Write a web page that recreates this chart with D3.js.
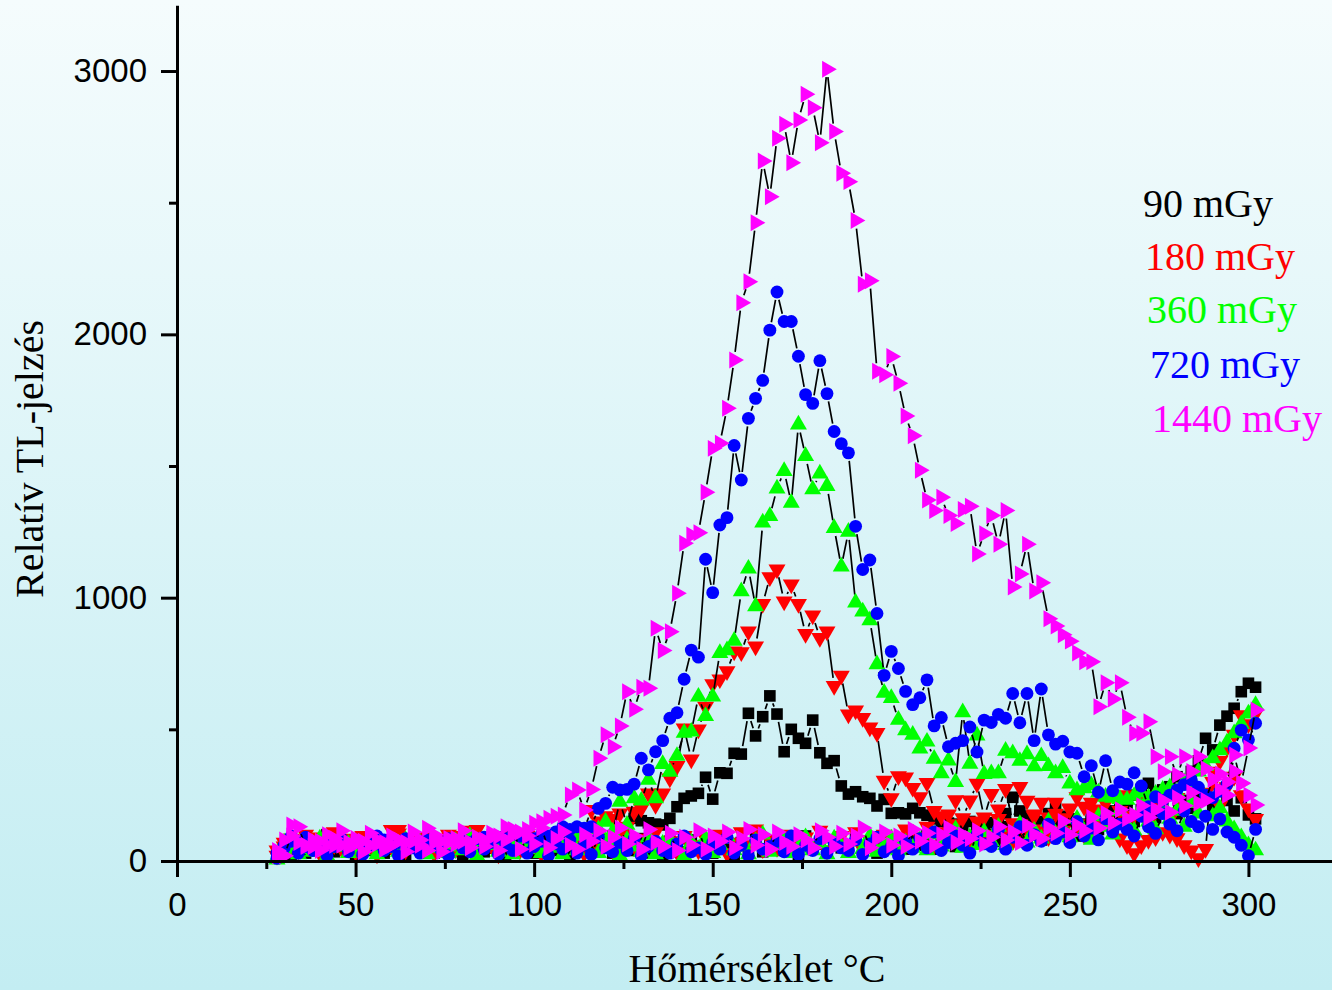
<!DOCTYPE html>
<html>
<head>
<meta charset="utf-8">
<script src="https://cdn.jsdelivr.net/npm/d3@7"></script>
<style>
  html, body { margin: 0; padding: 0; background: #ffffff; }
  svg { display: block; }
  .tick-label { font-family: "Liberation Sans", Arial, sans-serif; font-size: 33px; fill: #000; }
  .title { font-family: "Liberation Serif", "Times New Roman", serif; font-size: 40px; fill: #000; }
</style>
</head>
<body>
<script>
const ancho = 1332;
const alto = 990;

// hőmérséklet (°C), minden sorozat közös rácsa
const temperature = [
  28,30,32,34,36,38,40,42,44,46,
  48,50,52,54,56,58,60,62,64,66,
  68,70,72,74,76,78,80,82,84,86,
  88,90,92,94,96,98,100,102,104,106,
  108,110,112,114,116,118,120,122,124,126,
  128,130,132,134,136,138,140,142,144,146,
  148,150,152,154,156,158,160,162,164,166,
  168,170,172,174,176,178,180,182,184,186,
  188,190,192,194,196,198,200,202,204,206,
  208,210,212,214,216,218,220,222,224,226,
  228,230,232,234,236,238,240,242,244,246,
  248,250,252,254,256,258,260,262,264,266,
  268,270,272,274,276,278,280,282,284,286,
  288,290,292,294,296,298,300,302
];

const doses = ["90 mGy", "180 mGy", "360 mGy", "720 mGy", "1440 mGy"];

// első kiolvasás (glow görbe)
const glow90 = [
  30,60,50,45,55,40,60,50,45,55,
  50,60,45,55,50,65,45,55,60,50,
  55,50,60,45,55,60,50,55,45,60,
  50,55,60,50,65,55,60,70,65,75,
  70,80,75,85,80,90,85,95,100,110,
  162,153,145,140,137,162,206,238,247,257,
  318,235,335,333,409,406,561,475,548,627,
  558,415,500,466,447,535,411,371,381,285,
  254,263,244,238,209,234,181,183,179,200,
  183,174,160,150,144,140,135,150,140,130,
  145,150,180,242,190,170,160,150,180,209,
  170,150,140,130,150,160,170,190,200,230,
  250,270,295,260,270,282,320,300,340,380,
  466,422,516,550,580,643,675,660
];
const glow180 = [
  40,70,55,80,65,60,90,70,60,75,
  85,65,70,95,80,75,118,118,70,85,
  75,90,80,70,85,95,80,75,118,90,
  80,95,85,90,100,95,70,80,75,90,
  95,100,110,120,194,150,170,160,181,130,
  187,200,257,213,257,314,361,504,386,500,
  586,672,690,721,796,793,872,815,976,1078,
  1107,986,1050,976,862,933,847,872,665,704,
  557,572,543,507,486,305,239,322,317,278,
  242,297,190,170,177,231,163,230,294,166,
  255,196,274,144,281,229,177,222,166,222,
  163,196,242,206,222,196,150,120,86,60,
  30,60,80,90,110,100,87,60,40,11,
  46,339,380,430,480,554,520,560
];
const glow360 = [
  15,70,50,60,45,65,55,50,60,55,
  65,50,60,55,70,50,60,65,55,60,
  70,55,65,60,55,70,60,65,55,70,
  60,70,65,75,70,80,70,80,75,90,
  85,100,95,110,105,120,149,111,225,137,
  238,229,308,238,368,339,399,487,491,624,
  550,624,790,800,836,1024,1110,967,1285,1310,
  1414,1481,1360,1657,1538,1411,1471,1424,1264,1118,
  1250,981,947,914,747,639,619,536,496,479,
  427,453,388,333,381,300,565,369,476,330,
  333,333,418,409,380,405,359,398,360,333,
  353,294,268,276,287,260,244,240,235,232,
  247,260,240,255,270,280,260,300,310,340,
  360,390,420,450,485,520,560,592
];
const glow720 = [
  30,60,95,70,55,65,50,70,60,80,
  55,70,60,75,65,80,60,70,85,65,
  75,80,65,70,85,75,80,70,85,90,
  80,90,85,100,95,90,85,100,95,110,
  130,120,130,125,130,200,219,280,270,272,
  292,390,346,415,457,542,563,690,801,774,
  1146,1019,1276,1304,1578,1447,1681,1757,1825,2016,
  2161,2049,2049,1917,1771,1738,1900,1775,1631,1585,
  1550,1271,1107,1143,940,705,796,731,644,594,
  620,688,513,545,434,447,457,509,414,535,
  526,557,542,636,525,636,457,653,479,444,
  455,414,409,320,362,261,381,267,300,292,
  335,285,206,244,230,250,270,290,308,280,
  250,240,265,292,428,497,460,523
];
const glow1440 = [
  20,80,137,70,60,55,75,60,85,60,
  70,65,75,60,80,70,60,80,70,75,
  80,124,70,75,70,85,75,70,85,80,
  90,95,130,100,110,120,143,149,162,170,
  175,251,270,194,272,390,479,434,513,643,
  576,660,656,884,799,871,1017,1207,1238,1247,
  1400,1567,1586,1719,1903,2120,2200,2424,2658,2523,
  2745,2798,2652,2814,2912,2861,2728,3007,2770,2612,
  2580,2432,2190,2204,1860,1847,1916,1814,1690,1615,
  1484,1371,1331,1381,1312,1282,1335,1347,1166,1243,
  1312,1203,1331,1041,1090,1203,1025,1057,920,892,
  859,835,790,757,757,586,677,615,677,546,
  485,485,529,396,339,396,327,396,340,396,
  350,310,330,250,403,295,429,573
];

// második kiolvasás (háttér)
const bg90 = [
  15,45,25,70,30,60,55,100,35,65,
  50,20,75,40,60,30,80,45,25,65,
  45,70,30,55,85,40,20,60,75,35,
  50,80,25,60,45,90,30,55,70,40,
  65,25,80,45,35,90,55,30,70,50,
  40,85,30,65,20,75,55,35,80,45,
  60,30,90,45,25,70,50,85,35,60,
  75,40,55,25,95,45,65,30,80,50,
  55,85,40,70,30,95,50,75,45,85,
  60,95,45,80,110,55,90,70,120,65,
  100,75,130,85,110,95,140,80,120,150,
  110,160,95,140,175,120,190,130,170,210,
  150,195,230,165,210,250,180,230,200,260,
  240,210,270,230,190,240,175,160
];
const bg180 = [
  20,55,85,40,100,75,30,60,110,50,
  70,35,95,60,25,80,55,105,40,75,
  55,90,30,65,100,45,70,115,35,80,
  60,25,95,65,40,105,60,30,85,70,
  45,95,60,30,110,55,80,40,95,65,
  60,30,85,110,50,75,35,95,60,40,
  85,55,100,30,70,110,60,120,45,80,
  50,100,65,35,90,55,115,40,75,95,
  60,110,45,80,55,100,70,40,120,65,
  90,130,60,110,80,140,95,70,150,100,
  85,160,110,75,140,100,170,120,90,180,
  115,200,140,100,185,150,220,130,190,250,
  170,230,140,210,260,160,240,200,280,220,
  260,300,210,280,320,250,200,160
];
const bg360 = [
  5,40,70,25,60,35,85,20,55,75,
  30,65,40,90,25,55,70,35,80,45,
  60,25,85,50,30,75,40,95,20,60,
  80,35,55,25,90,45,65,30,75,50,
  25,85,40,60,95,30,70,45,20,80,
  55,35,90,25,65,80,40,20,70,45,
  85,30,60,95,40,55,25,75,100,35,
  60,80,30,50,90,40,65,25,85,55,
  30,75,45,95,35,60,85,40,70,50,
  80,40,100,55,75,120,50,90,60,110,
  75,130,60,95,140,70,115,85,150,100,
  125,90,160,110,80,170,130,100,190,140,
  115,200,150,120,210,160,190,130,220,180,
  240,170,200,150,120,90,60,40
];
const bg720 = [
  10,50,75,30,90,40,65,20,55,85,
  35,70,25,60,95,40,55,20,80,50,
  30,65,90,40,20,75,50,35,85,45,
  70,25,60,40,95,30,55,75,20,65,
  45,80,30,60,25,90,50,35,70,40,
  85,20,55,75,40,30,65,95,35,50,
  25,70,45,90,30,60,20,80,45,55,
  75,35,95,25,60,40,85,30,70,50,
  40,80,25,65,90,35,55,20,75,45,
  85,50,110,40,70,95,60,30,100,65,
  55,120,45,90,130,60,100,75,140,85,
  110,70,150,95,125,80,160,110,140,120,
  95,170,130,105,180,140,115,190,150,130,
  170,120,160,110,90,60,20,120
];
const bg1440 = [
  40,20,95,130,55,80,40,100,60,115,
  50,85,35,105,65,45,95,75,35,110,
  60,40,100,35,85,65,115,50,90,55,
  105,40,80,120,45,95,65,125,50,85,
  110,60,45,100,75,115,55,90,125,65,
  95,45,120,70,55,105,40,90,60,115,
  45,95,75,110,50,85,120,60,100,45,
  110,70,55,100,80,50,115,90,55,105,
  65,95,125,50,85,110,60,95,55,120,
  75,105,60,100,125,70,100,85,115,65,
  90,130,80,110,70,135,100,85,125,105,
  150,100,135,115,165,125,180,145,195,160,
  175,210,165,195,230,185,240,210,260,220,
  230,310,270,300,340,295,250,213
];

const xMajor = [0, 50, 100, 150, 200, 250, 300];
const xMinor = [25, 75, 125, 175, 225, 275];
const yMajor = [0, 1000, 2000, 3000];
const yMinor = [500, 1500, 2500];

const series = [
  { name: doses[0], color: "#000000", shape: d3.symbolSquare, size: 135, rotate: 0, readouts: [bg90, glow90] },
  { name: doses[1], color: "#ff0000", shape: d3.symbolTriangle, size: 125, rotate: 180, readouts: [bg180, glow180] },
  { name: doses[2], color: "#00ff00", shape: d3.symbolTriangle, size: 125, rotate: 0, readouts: [bg360, glow360] },
  { name: doses[3], color: "#0000ff", shape: d3.symbolCircle, size: 130, rotate: 0, readouts: [bg720, glow720] },
  { name: doses[4], color: "#ff00ff", shape: d3.symbolTriangle, size: 125, rotate: 90, readouts: [bg1440, glow1440] }
];

const x = d3.scaleLinear().domain([0, 323.4]).range([177, 1332]);
const y = d3.scaleLinear().domain([0, 3250]).range([861, 5.2]);

const svg = d3.select("body").append("svg")
  .attr("width", ancho)
  .attr("height", alto);

const grad = svg.append("defs").append("linearGradient")
  .attr("id", "hatter")
  .attr("x1", 0).attr("y1", 0).attr("x2", 0).attr("y2", 1);
grad.append("stop").attr("offset", "0%").attr("stop-color", "#f5fcfd");
grad.append("stop").attr("offset", "100%").attr("stop-color", "#c3edf2");

svg.append("rect")
  .attr("width", ancho)
  .attr("height", alto)
  .attr("fill", "url(#hatter)");

// vonal szakaszok réssel a jelölők körül
function reses(pontok, res) {
  let d = "";
  for (let i = 1; i < pontok.length; i++) {
    const [x0, y0] = pontok[i - 1];
    const [x1, y1] = pontok[i];
    const dx = x1 - x0, dy = y1 - y0;
    const len = Math.hypot(dx, dy);
    if (len <= 2 * res + 1) continue;
    const ux = dx / len, uy = dy / len;
    d += `M${x0 + ux * res},${y0 + uy * res}L${x1 - ux * res},${y1 - uy * res}`;
  }
  return d;
}

const plot = svg.append("g");

series.forEach(s => {
  const g = plot.append("g");
  s.readouts.forEach(vals => {
    const pts = temperature.map((t, i) => [x(t), y(vals[i])]);
    g.append("path")
      .attr("d", reses(pts, 8))
      .attr("fill", "none")
      .attr("stroke", "#000")
      .attr("stroke-width", 1.7);
  });
  const sym = d3.symbol().type(s.shape).size(s.size);
  s.readouts.forEach(vals => {
    g.selectAll(null)
      .data(temperature.map((t, i) => ({ t, v: vals[i] })))
      .enter()
      .append("path")
      .attr("d", sym)
      .attr("fill", s.color)
      .attr("transform", d => `translate(${x(d.t)},${y(d.v)}) rotate(${s.rotate})`);
  });
});

// tengelyek
svg.append("g")
  .attr("transform", `translate(0,${y(0)})`)
  .call(d3.axisBottom(x).tickValues(xMajor).tickSize(16).tickSizeOuter(0).tickPadding(16).tickFormat(d3.format("d")));
svg.append("g")
  .attr("transform", `translate(0,${y(0)})`)
  .call(d3.axisBottom(x).tickValues(xMinor).tickSize(8).tickFormat(""))
  .call(g => g.select(".domain").remove());

svg.append("g")
  .attr("transform", `translate(${x(0)},0)`)
  .call(d3.axisLeft(y).tickValues(yMajor).tickSize(16).tickSizeOuter(0).tickPadding(14).tickFormat(d3.format("d")));
svg.append("g")
  .attr("transform", `translate(${x(0)},0)`)
  .call(d3.axisLeft(y).tickValues(yMinor).tickSize(8).tickFormat(""))
  .call(g => g.select(".domain").remove());

svg.selectAll(".domain, .tick line")
  .attr("stroke", "#000")
  .attr("stroke-width", 3);
svg.selectAll(".tick text")
  .attr("class", "tick-label")
  .attr("fill", "#000")
  .attr("font-family", null)
  .attr("font-size", null);

// feliratok
svg.append("text")
  .attr("class", "title")
  .attr("x", 757)
  .attr("y", 982)
  .attr("text-anchor", "middle")
  .text("Hőmérséklet °C");

svg.append("text")
  .attr("class", "title")
  .attr("transform", "translate(43,459) rotate(-90)")
  .attr("text-anchor", "middle")
  .text("Relatív TL-jelzés");

const legendPos = [[1143, 217], [1145, 270], [1147, 323], [1150, 378], [1152, 432]];
svg.selectAll(".jelmagyarazat")
  .data(series)
  .enter()
  .append("text")
  .attr("class", "title jelmagyarazat")
  .attr("x", (d, i) => legendPos[i][0])
  .attr("y", (d, i) => legendPos[i][1])
  .style("fill", d => d.color)
  .text(d => d.name);
</script>
</body>
</html>
